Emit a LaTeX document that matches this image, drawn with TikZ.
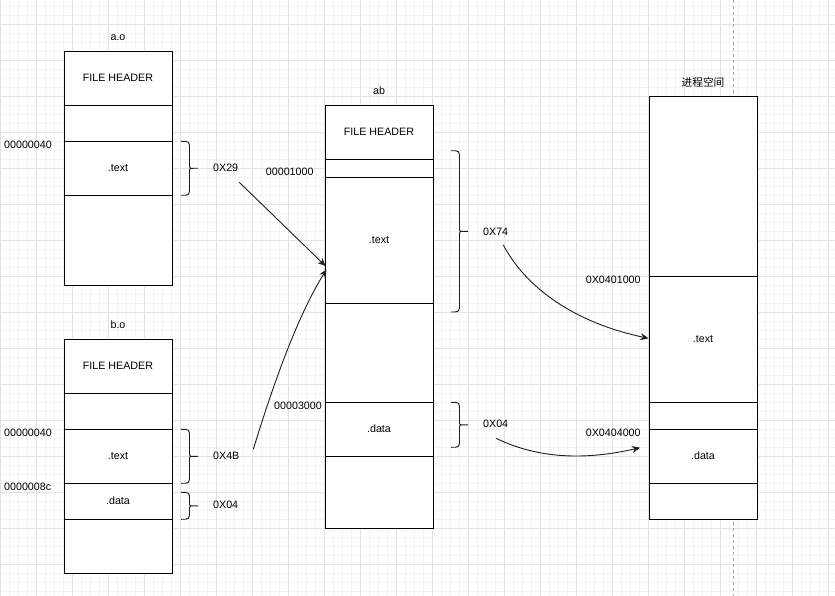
\documentclass[tikz,border=0pt]{standalone}
\usepackage{fontspec}
\setmainfont{Liberation Sans}
\newfontfamily\cjk{Noto Sans CJK SC}
\usetikzlibrary{arrows.meta}
\definecolor{gridmajor}{RGB}{226,226,226}
\definecolor{gridminor}{RGB}{243,243,243}
\definecolor{edgecol}{RGB}{30,30,30}
\newcommand{\drawbrace}[3]{% x0, ytop, ybottom
  \pgfmathsetmacro{\bm}{(#2+#3)/2}
  \draw[bracestyle] (#1,#2) .. controls ({#1+8.5},#2) .. ({#1+8.5},{#2+8.5})
    -- ({#1+8.5},{\bm-4}) .. controls ({#1+8.5},\bm) .. ({#1+12.5},\bm) -- ({#1+17},\bm)
    (#1,#3) .. controls ({#1+8.5},#3) .. ({#1+8.5},{#3-8.5})
    -- ({#1+8.5},{\bm+4}) .. controls ({#1+8.5},\bm) .. ({#1+12.5},\bm);
}
\tikzset{
  seg/.style={draw=black, fill=white, line width=0.9pt, minimum width=108pt, inner sep=0pt, outer sep=0pt, font=\fontsize{10.7}{12}\selectfont},
  lbl/.style={inner sep=0pt, font=\fontsize{10.7}{12}\selectfont},
  bracestyle/.style={draw=edgecol, line width=0.9pt},
  conn/.style={draw=edgecol, line width=0.9pt, -{Stealth[length=8pt,width=7pt]}},
}
\begin{document}
\begin{tikzpicture}[x=1pt, y=-1pt]
\useasboundingbox (0,0) rectangle (835,596);
\fill[white] (0,0) rectangle (835,596);
% grid
\foreach \i in {0,...,92} { \draw[gridminor, line width=0.8pt] ({0.7+9*\i},0) -- ({0.7+9*\i},596); }
\foreach \j in {0,...,65} { \draw[gridminor, line width=0.8pt] (0,{6.3+9*\j}) -- (835,{6.3+9*\j}); }
\foreach \i in {0,...,23} { \draw[gridmajor, line width=0.9pt] ({0.7+36*\i},0) -- ({0.7+36*\i},596); }
\foreach \j in {0,...,15} { \draw[gridmajor, line width=0.9pt] (0,{24.3+36*\j}) -- (835,{24.3+36*\j}); }
% page break line
\draw[gray!70, line width=0.8pt, dash pattern=on 3pt off 3pt] (733,0) -- (733,596);

% a.o
\node[lbl] (ao-lab) at (118,38) {a.o};
\node[seg, minimum height=54pt] (ao-h) at (118,78) {FILE HEADER};
\node[seg, minimum height=36pt] (ao-e) at (118,123) {};
\node[seg, minimum height=54pt] (ao-t) at (118,168) {.text};
\node[seg, minimum height=90pt] (ao-b) at (118,240) {};

% b.o
\node[lbl] (bo-lab) at (118,325) {b.o};
\node[seg, minimum height=54pt] (bo-h) at (118,366) {FILE HEADER};
\node[seg, minimum height=36pt] (bo-e) at (118,411) {};
\node[seg, minimum height=54pt] (bo-t) at (118,456) {.text};
\node[seg, minimum height=36pt] (bo-d) at (118,501) {.data};
\node[seg, minimum height=54pt] (bo-b) at (118,546) {};

% ab
\node[lbl] (ab-lab) at (379,91) {ab};
\node[seg, minimum height=54pt] (ab-h) at (379,132) {FILE HEADER};
\node[seg, minimum height=18pt] (ab-e) at (379,168) {};
\node[seg, minimum height=126pt] (ab-t) at (379,240) {.text};
\node[seg, minimum height=99pt] (ab-g) at (379,352.5) {};
\node[seg, minimum height=54pt] (ab-d) at (379,429) {.data};
\node[seg, minimum height=72pt] (ab-b) at (379,492) {};

% process space
\node[lbl, font=\cjk\fontsize{10.7}{12}\selectfont] (p-lab) at (703,82) {进程空间};
\node[seg, minimum height=180pt] (p-top) at (703,186) {};
\node[seg, minimum height=126pt] (p-t) at (703,339) {.text};
\node[seg, minimum height=27pt] (p-g) at (703,415.5) {};
\node[seg, minimum height=54pt] (p-d) at (703,456) {.data};
\node[seg, minimum height=36pt] (p-b) at (703,501) {};

% address labels
\node[lbl, anchor=west] (a1) at (4,145.3) {00000040};
\node[lbl, anchor=west] (a2) at (4,433.3) {00000040};
\node[lbl, anchor=west] (a3) at (4,487) {0000008c};
\node[lbl, anchor=west] (a4) at (265.7,171.7) {00001000};
\node[lbl, anchor=west] (a5) at (274,405.7) {00003000};
\node[lbl, anchor=west] (a6) at (585.7,280) {0X0401000};
\node[lbl, anchor=west] (a7) at (585.7,433) {0X0404000};

% size labels
\node[lbl, anchor=west] (s1) at (213,167.7) {0X29};
\node[lbl, anchor=west] (s2) at (213,456) {0X4B};
\node[lbl, anchor=west] (s3) at (213,505) {0X04};
\node[lbl, anchor=west] (s4) at (483,231.5) {0X74};
\node[lbl, anchor=west] (s5) at (483,424) {0X04};

% braces
\drawbrace{181}{141.3}{195.3}
\drawbrace{181}{429.3}{483.3}
\drawbrace{181}{492.3}{519.3}
\drawbrace{451}{150.7}{312}
\drawbrace{451}{402.3}{447.3}

% connector end points
\coordinate (c1s) at (239.3,182.3);
\coordinate (c1e) at (325.5,266);
\coordinate (c2s) at (253.3,449.3);
\coordinate (c2e) at (326.5,269.5);
\coordinate (c3s) at (503.3,245);
\coordinate (c3e) at (648.5,338.3);
\coordinate (c4s) at (496,438.3);
\coordinate (c4e) at (640,447.7);

\draw[conn] (c1s) -- (c1e);
\draw[conn] (c2s) .. controls (270,395) and (295,320) .. (c2e);
\draw[conn] (c3s) .. controls (530,295) and (585,325) .. (c3e);
\draw[conn] (c4s) .. controls (545,462) and (595,458) .. (c4e);
\end{tikzpicture}
\end{document}
